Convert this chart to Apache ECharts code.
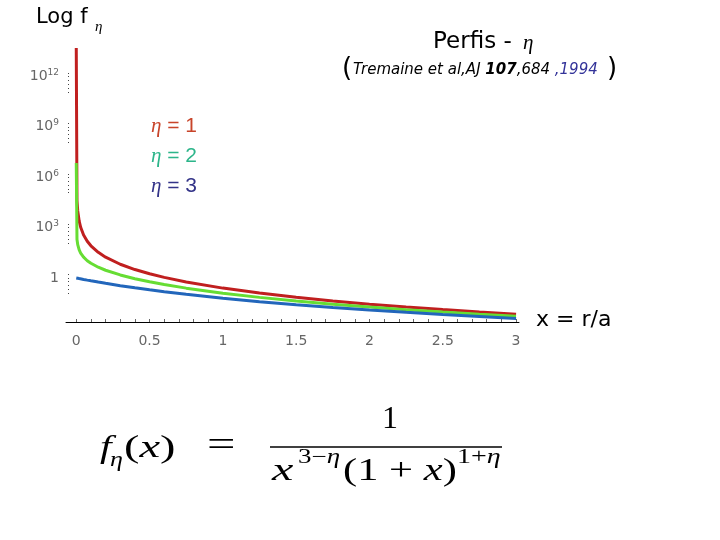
<!DOCTYPE html>
<html><head><meta charset="utf-8">
<script src="https://cdn.jsdelivr.net/npm/echarts@6/dist/echarts.min.js"></script>
<style>html,body{margin:0;padding:0;background:#fff}#c{width:720px;height:540px}</style>
</head><body><div id="c"></div>
<script>
// ---- data ----
const xValues = [0, 0.005, 0.01, 0.02, 0.03, 0.05, 0.075, 0.1, 0.15, 0.2, 0.3, 0.4, 0.5, 0.6, 0.75, 1.0, 1.25, 1.5, 1.75, 2.0, 2.25, 2.5, 2.75, 3.0];
const fEta1 = [5e13, 39600, 9800, 2400, 1050, 363, 154, 82.6, 33.6, 17.4, 6.58, 3.19, 1.78, 1.09, 0.58, 0.25, 0.126, 0.0711, 0.0432, 0.0278, 0.0187, 0.0131, 0.0094, 0.0069];
const fEta2 = [7e6, 197, 97, 47.1, 30.5, 17.3, 10.7, 7.51, 4.38, 2.89, 1.52, 0.911, 0.593, 0.407, 0.249, 0.125, 0.0702, 0.0427, 0.0275, 0.0185, 0.013, 0.0093, 0.0069, 0.0052];
const fEta3 = [1.0, 0.98, 0.961, 0.924, 0.888, 0.823, 0.749, 0.683, 0.572, 0.482, 0.35, 0.26, 0.198, 0.153, 0.107, 0.0625, 0.039, 0.0256, 0.0175, 0.0123, 0.009, 0.0067, 0.0051, 0.0039];
const seriesNames = ['η = 1', 'η = 2', 'η = 3'];
const xTickLabels = [0, 0.5, 1, 1.5, 2, 2.5, 3];
const xTickMarks = [0, 0.1, 0.2, 0.3, 0.4, 0.5, 0.6, 0.7, 0.8, 0.9, 1, 1.1, 1.2, 1.3, 1.4, 1.5, 1.6, 1.7, 1.8, 1.9, 2, 2.1, 2.2, 2.3, 2.4, 2.5, 2.6, 2.7, 2.8, 2.9, 3];
const yTickValues = [1, 1e3, 1e6, 1e9, 1e12];

// ---- styling ----
const lineColors = ['#c01f1f', '#66dd33', '#2266bb'];
const legendColors = ['#c8442a', '#2cb58a', '#333388'];
const yDots = [];
yTickValues.forEach(v => [1.6, 1, 0.6, 0.35, 0.2, 0.12].forEach(f => yDots.push(v * f)));

const chart = echarts.init(document.getElementById('c'));
const seriesData = [fEta1, fEta2, fEta3];
const serif = 'Liberation Serif';
const sans = 'DejaVu Sans';

function txt(x, y, text, style, extra) {
  return Object.assign({ type: 'text', x: x, y: y, silent: true,
    style: Object.assign({ text: text, fill: '#000', verticalAlign: 'middle' }, style) }, extra || {});
}
function mixed(parts, size) {
  // parts: array of [text, italic]
  return {
    text: parts.map((p, i) => '{' + (p[1] ? 'i' : 'n') + '|' + p[0] + '}').join(''),
    rich: {
      n: { font: size + 'px ' + serif, fill: '#000' },
      i: { font: 'italic ' + size + 'px ' + serif, fill: '#000' }
    }
  };
}

chart.setOption({
  animation: false,
  backgroundColor: '#fff',
  grid: { left: 66, right: 201, top: 40, bottom: 218 },
  xAxis: {
    type: 'value', min: -0.07, max: 3.02,
    axisLine: { onZero: false, lineStyle: { color: '#000', width: 1 } },
    axisTick: { inside: true, length: 3, customValues: xTickMarks, lineStyle: { color: '#666' } },
    axisLabel: { customValues: xTickLabels, color: '#666', fontSize: 14, fontFamily: sans, margin: 12 },
    splitLine: { show: false }
  },
  yAxis: {
    type: 'log', logBase: 10, min: 0.0024, max: 1.48e14,
    offset: -3,
    axisLine: { show: false, onZero: false },
    axisTick: { show: true, inside: false, length: 1, customValues: yDots, lineStyle: { color: '#444', width: 1 } },
    axisLabel: {
      customValues: yTickValues, color: '#666', fontSize: 14, fontFamily: sans, margin: 10,
      formatter: v => {
        const e = Math.round(Math.log10(v));
        return e === 0 ? '1' : '10{s|' + e + '}';
      },
      rich: { s: { fontSize: 9, fontFamily: sans, color: '#666', verticalAlign: 'top', padding: [0, 0, 8, 0] } }
    },
    splitLine: { show: false }
  },
  legend: {
    orient: 'vertical', left: 141, top: 111, itemGap: 9,
    icon: 'none', itemWidth: 0, itemHeight: 14,
    selectedMode: false,
    data: seriesNames.map((n, i) => ({ name: n, textStyle: { color: legendColors[i] } })),
    formatter: n => '{e|η}' + n.slice(1),
    textStyle: { fontSize: 21, fontFamily: 'Liberation Sans',
      rich: { e: { fontSize: 21, fontFamily: serif, fontStyle: 'italic' } } }
  },
  series: seriesData.map((arr, i) => ({
    name: seriesNames[i], type: 'line', showSymbol: false, symbol: 'none',
    data: xValues.map((x, j) => [x, arr[j]]),
    lineStyle: { color: lineColors[i], width: 3 }, itemStyle: { color: lineColors[i] },
    z: 2 + i
  })),
  graphic: [
    txt(36, 18, 'Log f', { font: '21px ' + sans }),
    txt(95, 27, 'η', { font: 'italic 15px ' + serif }),
    txt(433, 42, 'Perfis -', { font: '23px ' + sans }),
    txt(523, 43, 'η', { font: 'italic 21px ' + serif }),
    txt(342, 69, '(', { font: '26px ' + sans }),
    txt(353, 70, '{t|Tremaine et al,AJ }{b|107}{t|,684 }{y|,1994}', {
      rich: {
        t: { font: 'italic 15px ' + sans, fill: '#000' },
        b: { font: 'italic bold 15px ' + sans, fill: '#000' },
        y: { font: 'italic 15px ' + sans, fill: '#333399' }
      }
    }),
    txt(607, 69, ')', { font: '26px ' + sans }),
    txt(536, 320, 'x = r/a', { font: '22px ' + sans }),
    // formula f_eta(x) = 1 / (x^(3-eta) (1+x)^(1+eta))
    txt(100, 449, 'f', { font: 'italic 32px ' + serif }, { scaleX: 1.3 }),
    txt(110, 461, 'η', { font: 'italic 20px ' + serif }, { scaleX: 1.3 }),
    txt(124, 449, '', mixed([['(', 0], ['x', 1], [')', 0]], 32), { scaleX: 1.45 }),
    txt(207, 447, '=', { font: '36px ' + serif }, { scaleX: 1.4 }),
    txt(390, 420, '1', { font: '32px ' + serif, align: 'center' }),
    { type: 'line', silent: true, shape: { x1: 270, y1: 447, x2: 502, y2: 447 }, style: { stroke: '#000', lineWidth: 1.6 } },
    txt(272, 472, 'x', { font: 'italic 32px ' + serif }, { scaleX: 1.5 }),
    txt(298, 458, '', mixed([['3−', 0], ['η', 1]], 20), { scaleX: 1.35 }),
    txt(343, 472, '', mixed([['(1 + ', 0], ['x', 1], [')', 0]], 32), { scaleX: 1.33 }),
    txt(457, 458, '', mixed([['1+', 0], ['η', 1]], 20), { scaleX: 1.4 })
  ]
});
</script>
</body></html>
